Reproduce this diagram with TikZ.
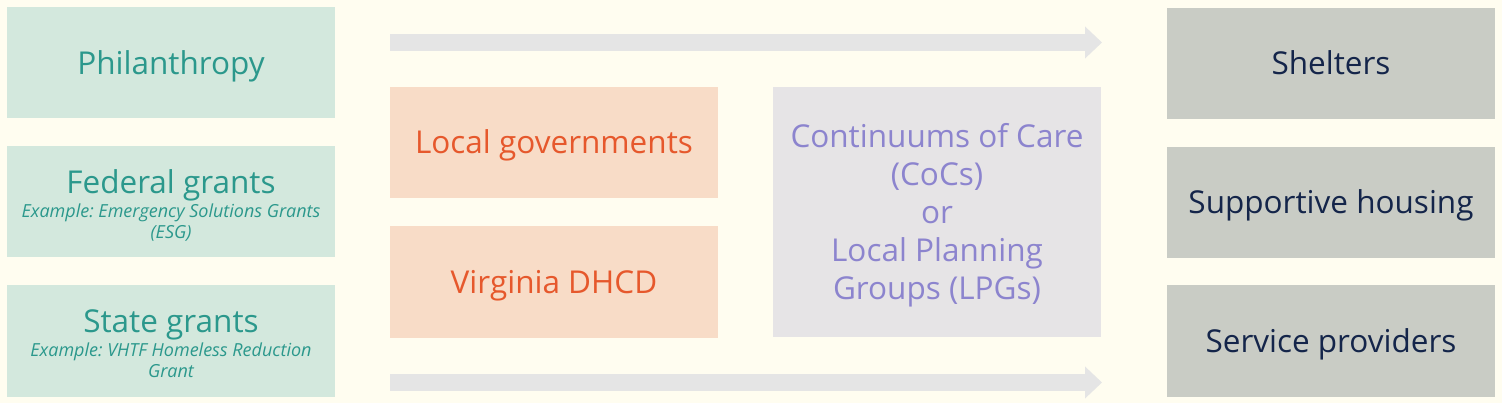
\documentclass[tikz,border=0pt]{standalone}
\usepackage{fontspec}
\setmainfont{Open Sans}
\usetikzlibrary{arrows.meta}

\definecolor{bgcream}{RGB}{255,253,240}
\definecolor{mintfill}{RGB}{211,232,221}
\definecolor{tealtext}{RGB}{43,152,140}
\definecolor{peachfill}{RGB}{248,220,199}
\definecolor{orangetext}{RGB}{230,88,44}
\definecolor{greyfill}{RGB}{230,228,230}
\definecolor{lavtext}{RGB}{140,132,206}
\definecolor{sagefill}{RGB}{201,204,197}
\definecolor{navytext}{RGB}{20,37,74}
\definecolor{arrowgrey}{RGB}{229,229,229}

\newcommand{\bigtxt}{\fontsize{31.5}{38}\selectfont\frenchspacing}
\newcommand{\subtxt}[1]{{\fontsize{18}{21}\selectfont\itshape\begin{tabular}[t]{@{}c@{}}#1\end{tabular}}}
\newcommand{\topstrut}[1]{\rule{0pt}{#1}}

\tikzset{
  box/.style={draw=none, minimum width=328pt, minimum height=111pt, align=center, inner sep=0pt, font=\bigtxt},
  oneline/.style={text height=22.5pt, text depth=0pt},
  source/.style={box, fill=mintfill, text=tealtext},
  agency/.style={box, oneline, fill=peachfill, text=orangetext},
  planner/.style={box, fill=greyfill, text=lavtext, minimum height=250pt},
  provider/.style={box, oneline, fill=sagefill, text=navytext},
  flow/.style={draw=arrowgrey, line width=17pt, -{Triangle[length=17pt,width=31pt]}}
}

\begin{document}
\begin{tikzpicture}[x=1pt,y=-1pt]
%Shape: Background
\fill [bgcream] (0,0) rectangle (1502,403);
\useasboundingbox (0,0) rectangle (1502,403);

%Shape: Funding sources
\node [source, oneline] (phil) at (171,63) {Philanthropy};
\node [source] (fed) at (171,202) {\topstrut{34pt}Federal grants\\[-14pt]\subtxt{Example: Emergency Solutions Grants\\(ESG)}};
\node [source] (state) at (171,341) {\topstrut{34pt}State grants\\[-14pt]\subtxt{Example: VHTF Homeless Reduction\\Grant}};

%Shape: Administrators
\node [agency] (lg) at (554,142.5) {Local governments};
\node [agency] (dhcd) at (554,282) {Virginia DHCD};
\node [planner] (coc) at (937,212) {\topstrut{31pt}Continuums of Care\\(CoCs)\\or\\Local Planning\\Groups (LPGs)};

%Shape: Recipients
\node [provider] (shelter) at (1331,63.5) {Shelters};
\node [provider] (housing) at (1331,202.5) {Supportive housing};
\node [provider] (service) at (1331,341) {Service providers};

%Straight Lines: flow arrows
\coordinate (topstart) at (390,42.5);
\coordinate (topend) at (1102,42.5);
\coordinate (botstart) at (390,382.5);
\coordinate (botend) at (1102,382.5);
\draw [flow] (topstart) -- (topend);
\draw [flow] (botstart) -- (botend);

\end{tikzpicture}
\end{document}
